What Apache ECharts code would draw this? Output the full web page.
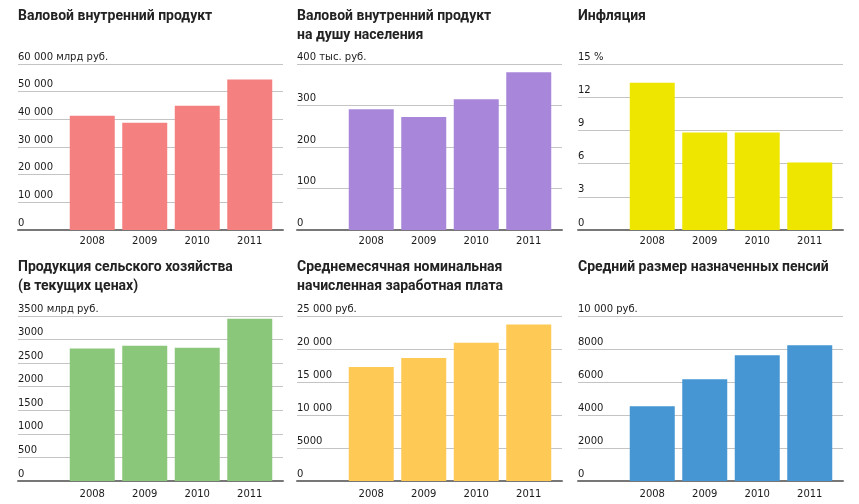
<!DOCTYPE html>
<html>
<head>
<meta charset="utf-8">
<script src="https://cdn.jsdelivr.net/npm/echarts@6/dist/echarts.min.js"></script>
<style>
html,body{margin:0;padding:0;background:#fff;}
#chart{width:859px;height:504px;}
</style>
</head>
<body>
<div id="chart"></div>
<script>
const years = ['2008', '2009', '2010', '2011'];
const gdp = [41277, 38807, 44939, 54369];
const gdpPerCapita = [291, 272, 315, 380];
const inflation = [13.3, 8.8, 8.8, 6.1];
const agriculture = [2810, 2870, 2825, 3440];
const wages = [17290, 18638, 20952, 23700];
const pensions = [4530, 6170, 7620, 8230];

const titles = [
  'Валовой внутренний продукт',
  'Валовой внутренний продукт\nна душу населения',
  'Инфляция',
  'Продукция сельского хозяйства\n(в текущих ценах)',
  'Среднемесячная номинальная\nначисленная заработная плата',
  'Средний размер назначенных пенсий'
];
const units = ['млрд руб.', 'тыс. руб.', '%', 'млрд руб.', 'руб.', 'руб.'];
const axisMax = [60000, 400, 15, 3500, 25000, 10000];
const axisStep = [10000, 100, 3, 500, 5000, 2000];
const seriesData = [gdp, gdpPerCapita, inflation, agriculture, wages, pensions];
const colors = ['#f48080', '#a886d9', '#efe600', '#8ac77a', '#ffc955', '#4596d3'];

const panelLeft = [18, 297, 578];
const panelWidth = 265;
const rowTop = [64, 316];
const rowBase = [230, 481];
const titleTop = [7, 258];

function fmt(v) {
  const s = String(v);
  return v >= 10000 ? s.replace(/\B(?=(\d{3})+$)/g, ' ') : s;
}

const option = {
  animation: false,
  title: [], grid: [], xAxis: [], yAxis: [], series: []
};

for (let i = 0; i < 6; i++) {
  const r = Math.floor(i / 3), c = i % 3;
  const left = panelLeft[c];
  const top = rowTop[r];
  const h = rowBase[r] - rowTop[r];
  option.title.push({
    text: titles[i], left: left, top: titleTop[r], padding: 0,
    textStyle: { fontFamily: 'Roboto', fontWeight: 'bold', fontSize: 14, lineHeight: 19, color: '#222' }
  });
  option.grid.push({ left: left, top: top, width: panelWidth, height: h, containLabel: false });
  option.grid.push({ left: left + 48, top: top, width: 210, height: h, containLabel: false });
  const ga = 2 * i, gb = 2 * i + 1;
  const mx = axisMax[i], unit = units[i];
  option.xAxis.push({
    type: 'value', gridIndex: ga, min: 0, max: 1,
    axisLine: { show: true, onZero: false, lineStyle: { color: '#777', width: 2 } },
    axisTick: { show: false }, axisLabel: { show: false }, splitLine: { show: false }
  });
  option.yAxis.push({
    type: 'value', gridIndex: ga, min: 0, max: mx, interval: axisStep[i],
    axisLine: { show: false }, axisTick: { show: false },
    splitLine: { show: true, lineStyle: { color: '#c4c4c4', width: 1 } },
    axisLabel: {
      inside: true, margin: 0, align: 'left', verticalAlign: 'bottom',
      padding: [0, 0, 2, 0],
      fontFamily: 'DejaVu Sans', fontSize: 10, color: '#1a1a1a',
      showMinLabel: true, showMaxLabel: true,
      formatter: function (v) { return v === mx ? fmt(v) + ' ' + unit : fmt(v); }
    }
  });
  option.xAxis.push({
    type: 'category', gridIndex: gb, data: years,
    axisLine: { show: false }, axisTick: { show: false },
    axisLabel: { margin: r === 0 ? 6 : 8, fontFamily: 'DejaVu Sans', fontSize: 10, color: '#1a1a1a' }
  });
  option.yAxis.push({
    type: 'value', gridIndex: gb, min: 0, max: mx, show: false
  });
  option.series.push({
    type: 'bar', xAxisIndex: 2 * i + 1, yAxisIndex: 2 * i + 1,
    data: seriesData[i], barCategoryGap: '14.3%',
    itemStyle: { color: colors[i] }, z: 1
  });
}

const chart = echarts.init(document.getElementById('chart'), null, { renderer: 'canvas' });
chart.setOption(option);
</script>
</body>
</html>
